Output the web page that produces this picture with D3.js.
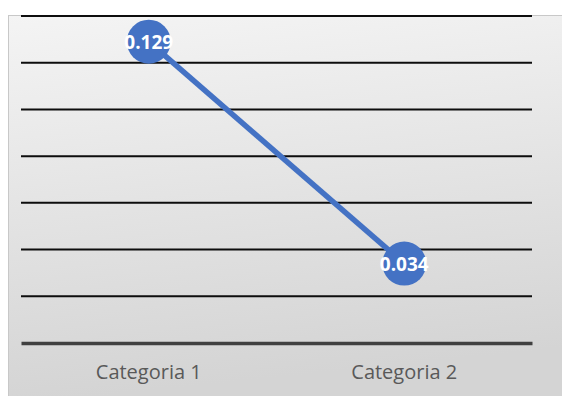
<!DOCTYPE html>
<html>
<head>
<meta charset="utf-8">
<script src="https://cdn.jsdelivr.net/npm/d3@7"></script>
<style>
  html, body { margin: 0; padding: 0; background: #fff; }
  svg { display: block; }
</style>
</head>
<body>
<svg class="chart"></svg>
<script>
var categories = ['Categoria 1', 'Categoria 2'];
var values = [0.129, 0.034];
var ticks = [0, 0.02, 0.04, 0.06, 0.08, 0.1, 0.12, 0.14];

var width = 562;
var height = 396;

var svg = d3.select('.chart')
    .attr('width', width)
    .attr('height', height);

// chart area background
var defs = svg.append('defs');
var grad = defs.append('linearGradient')
    .attr('id', 'bg')
    .attr('x1', 0).attr('y1', 0).attr('x2', 0.15).attr('y2', 1);
grad.append('stop').attr('offset', '0%').attr('stop-color', '#f4f4f4');
grad.append('stop').attr('offset', '100%').attr('stop-color', '#d4d4d4');

svg.append('rect')
    .attr('x', 8.5).attr('y', 15.5)
    .attr('width', width - 8).attr('height', height - 15)
    .attr('fill', 'url(#bg)')
    .attr('stroke', '#c8c8c8');

var x = d3.scaleBand().domain(categories).range([21, 532]);
var y = d3.scaleLinear().domain([0, 0.14]).range([343, 16]);

// gridlines
svg.append('g')
    .selectAll('line')
    .data(ticks.slice(1))
    .enter().append('line')
    .attr('x1', 21).attr('x2', 532)
    .attr('y1', function(d) { return y(d); })
    .attr('y2', function(d) { return y(d); })
    .attr('stroke', '#0d0d0d')
    .attr('stroke-width', 2);

// category axis
var xAxis = svg.append('g')
    .attr('transform', 'translate(0,' + y(0) + ')')
    .call(d3.axisBottom(x).tickSize(0).tickPadding(22));
xAxis.select('.domain')
    .attr('stroke', '#404040')
    .attr('stroke-width', 3.5);
xAxis.selectAll('text')
    .attr('fill', '#595959')
    .style('font-family', '"Open Sans", sans-serif')
    .style('font-size', '20px');

var pts = categories.map(function(c, i) {
    return [x(c) + x.bandwidth() / 2, y(values[i])];
});

svg.append('path')
    .datum(pts)
    .attr('d', d3.line())
    .attr('fill', 'none')
    .attr('stroke', '#4472c4')
    .attr('stroke-width', 5.5);

svg.append('g')
    .selectAll('circle')
    .data(pts)
    .enter().append('circle')
    .attr('cx', function(d) { return d[0]; })
    .attr('cy', function(d) { return d[1]; })
    .attr('r', 22)
    .attr('fill', '#4472c4');

svg.append('g')
    .selectAll('text')
    .data(pts)
    .enter().append('text')
    .attr('x', function(d) { return d[0]; })
    .attr('y', function(d) { return d[1] + 7; })
    .attr('text-anchor', 'middle')
    .attr('fill', '#fff')
    .style('font-family', '"Open Sans", sans-serif')
    .style('font-weight', 'bold')
    .style('font-size', '19px')
    .text(function(d, i) { return values[i]; });
</script>
</body>
</html>
